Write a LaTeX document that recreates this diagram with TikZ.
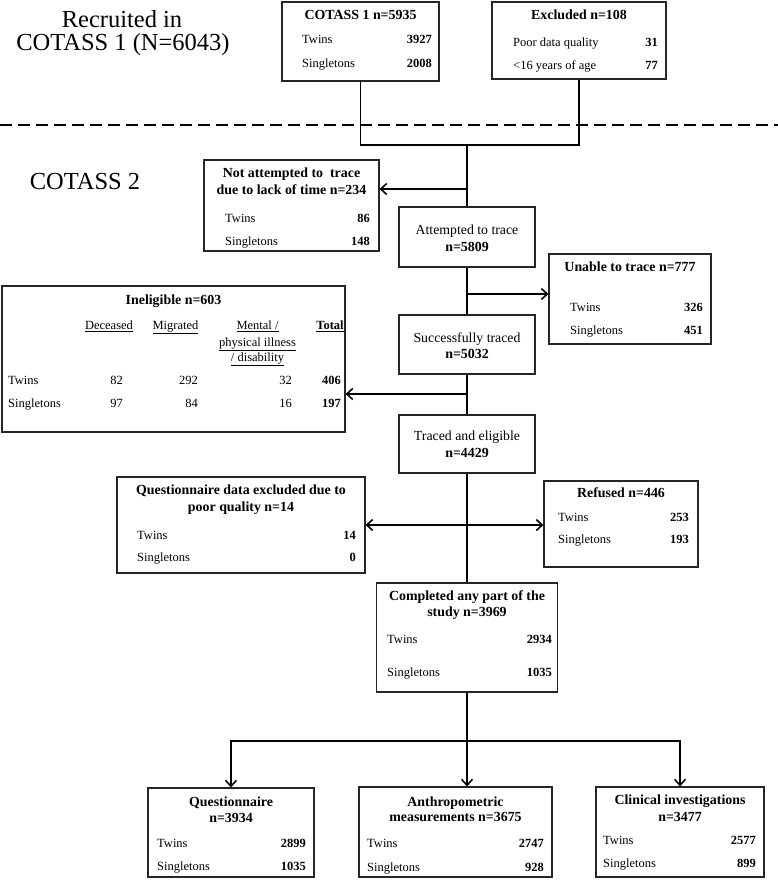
\documentclass[tikz,border=0pt]{standalone}
\usepackage{fontspec}
\setmainfont{Liberation Serif}
\usetikzlibrary{arrows.meta}
\tikzset{
  box/.style={draw=black!85,line width=1.1pt,inner sep=0pt},
  conn/.style={line width=1.8pt},
  arr/.style={conn,-{Straight Barb[length=6pt,width=11pt,line width=1.6pt]}},
  ttl/.style={font=\fontsize{24.5}{27}\selectfont,anchor=base,inner sep=0pt},
  hd/.style={font=\fontsize{13.9}{15}\selectfont\bfseries,anchor=base,inner sep=0pt},
  txt/.style={font=\fontsize{13.8}{15}\selectfont,anchor=base,inner sep=0pt},
  lbl/.style={font=\fontsize{12.5}{14}\selectfont,anchor=base west,inner sep=0pt},
  num/.style={font=\fontsize{12.5}{14}\selectfont\bfseries,anchor=base east,inner sep=0pt},
  col/.style={font=\fontsize{12.5}{14}\selectfont,anchor=base,inner sep=0pt},
}
\begin{document}
\begin{tikzpicture}[x=1pt,y=-1pt]
        \useasboundingbox (0,0) rectangle (778,880);
        %
        \node[ttl] (rec1) at (122,28) {Recruited in};
        \node[ttl] (rec2) at (123,50.5) {COTASS 1 (N=6043)};
        \node[ttl] (cot2) at (85,189) {COTASS 2};
        \draw[line width=2.5pt,dash pattern=on 12pt off 6pt] (0,125) -- (778,125);
        %
        % boxes
        \node[box,minimum width=157pt,minimum height=79pt] (cot1) at (360.5,41.5) {};
        \node[box,minimum width=174pt,minimum height=77pt] (excl) at (579,40.5) {};
        \node[box,minimum width=175pt,minimum height=91pt] (natt) at (291.5,205.5) {};
        \node[box,minimum width=136pt,minimum height=60pt] (att) at (467,237) {};
        \node[box,minimum width=162pt,minimum height=90pt] (unab) at (630,299) {};
        \node[box,minimum width=136pt,minimum height=59pt] (succ) at (467,344.5) {};
        \node[box,minimum width=343pt,minimum height=146pt] (inel) at (173.5,359) {};
        \node[box,minimum width=136pt,minimum height=58pt] (trel) at (467,444) {};
        \node[box,minimum width=248pt,minimum height=96pt] (qex) at (241,525) {};
        \node[box,minimum width=154pt,minimum height=86pt] (ref) at (621,524) {};
        \node[box,minimum width=181pt,minimum height=109pt] (comp) at (467,637.5) {};
        \node[box,minimum width=166pt,minimum height=89pt] (qst) at (231,832.5) {};
        \node[box,minimum width=193pt,minimum height=90pt] (anth) at (455.5,832) {};
        \node[box,minimum width=168pt,minimum height=90pt] (clin) at (680,832) {};
        %
        % COTASS 1
        \node[hd] (cot1h) at (360.5,19.5) {COTASS 1 n=5935};
        \node[lbl] (cot1tw) at (302,43.5) {Twins};
        \node[num] (cot1twn) at (432,43.5) {3927};
        \node[lbl] (cot1si) at (302,67.5) {Singletons};
        \node[num] (cot1sin) at (432,67.5) {2008};
        % Excluded
        \node[hd] (exclh) at (579,19.5) {Excluded n=108};
        \node[lbl] (exclpd) at (513,47) {Poor data quality};
        \node[num] (exclpdn) at (658,47) {31};
        \node[lbl] (exclag) at (513,70) {\textless16 years of age};
        \node[num] (exclagn) at (658,70) {77};
        % Not attempted
        \node[hd] (natth1) at (291.5,177.5) {Not attempted to \ trace};
        \node[hd] (natth2) at (291.5,194.5) {due to lack of time n=234};
        \node[lbl] (natttw) at (225,222.5) {Twins};
        \node[num] (natttwn) at (370,222.5) {86};
        \node[lbl] (nattsi) at (225,245) {Singletons};
        \node[num] (nattsin) at (370,245) {148};
        % Attempted
        \node[txt] (atth1) at (467,234.5) {Attempted to trace};
        \node[hd] (atth2) at (467,251.5) {n=5809};
        % Unable
        \node[hd] (unabh) at (630,271.5) {Unable to trace n=777};
        \node[lbl] (unabtw) at (570,311.5) {Twins};
        \node[num] (unabtwn) at (703,311.5) {326};
        \node[lbl] (unabsi) at (570,334.5) {Singletons};
        \node[num] (unabsin) at (703,334.5) {451};
        % Successfully traced
        \node[txt] (succh1) at (467,342.5) {Successfully traced};
        \node[hd] (succh2) at (467,358.5) {n=5032};
        % Ineligible
        \node[hd] (inelh) at (173.5,304.5) {Ineligible n=603};
        \node[col] (inelc1) at (109,329.5) {\underline{Deceased}};
        \node[col] (inelc2) at (175.5,329.5) {\underline{Migrated}};
        \node[col] (inelc3a) at (257.5,329.5) {\underline{Mental /}};
        \node[col] (inelc3b) at (257.5,346) {\underline{physical illness}};
        \node[col] (inelc3c) at (257.5,361.5) {\underline{/ disability}};
        \node[col,font=\fontsize{12.5}{14}\selectfont\bfseries] (inelc4) at (330,329.5) {\underline{Total}};
        \node[lbl] (ineltw) at (8,384.5) {Twins};
        \node[col,anchor=base east] (ineltw1) at (123,384.5) {82};
        \node[col,anchor=base east] (ineltw2) at (198,384.5) {292};
        \node[col,anchor=base east] (ineltw3) at (292,384.5) {32};
        \node[num] (ineltw4) at (341,384.5) {406};
        \node[lbl] (inelsi) at (8,407.5) {Singletons};
        \node[col,anchor=base east] (inelsi1) at (123,407.5) {97};
        \node[col,anchor=base east] (inelsi2) at (198,407.5) {84};
        \node[col,anchor=base east] (inelsi3) at (292,407.5) {16};
        \node[num] (inelsi4) at (341,407.5) {197};
        % Traced and eligible
        \node[txt] (trelh1) at (467,440.5) {Traced and eligible};
        \node[hd] (trelh2) at (467,457.5) {n=4429};
        % Questionnaire data excluded
        \node[hd] (qexh1) at (241,494.5) {Questionnaire data excluded due to};
        \node[hd] (qexh2) at (241,511.5) {poor quality n=14};
        \node[lbl] (qextw) at (137,539.5) {Twins};
        \node[num] (qextwn) at (356,539.5) {14};
        \node[lbl] (qexsi) at (137,561.5) {Singletons};
        \node[num] (qexsin) at (356,561.5) {0};
        % Refused
        \node[hd] (refh) at (621,497.5) {Refused n=446};
        \node[lbl] (reftw) at (558,521.5) {Twins};
        \node[num] (reftwn) at (689,521.5) {253};
        \node[lbl] (refsi) at (558,543.5) {Singletons};
        \node[num] (refsin) at (689,543.5) {193};
        % Completed
        \node[hd] (comph1) at (467,600.5) {Completed any part of the};
        \node[hd] (comph2) at (467,616.5) {study n=3969};
        \node[lbl] (comptw) at (387,643.5) {Twins};
        \node[num] (comptwn) at (552,643.5) {2934};
        \node[lbl] (compsi) at (387,676.5) {Singletons};
        \node[num] (compsin) at (552,676.5) {1035};
        % Questionnaire
        \node[hd] (qsth1) at (231,806.5) {Questionnaire};
        \node[hd] (qsth2) at (231,822.5) {n=3934};
        \node[lbl] (qsttw) at (157,847.5) {Twins};
        \node[num] (qsttwn) at (306,847.5) {2899};
        \node[lbl] (qstsi) at (157,870.5) {Singletons};
        \node[num] (qstsin) at (306,870.5) {1035};
        % Anthropometric
        \node[hd] (anthh1) at (455.5,806) {Anthropometric};
        \node[hd] (anthh2) at (455.5,821.5) {measurements n=3675};
        \node[lbl] (anthtw) at (367,847.5) {Twins};
        \node[num] (anthtwn) at (544,847.5) {2747};
        \node[lbl] (anthsi) at (367,871.5) {Singletons};
        \node[num] (anthsin) at (544,871.5) {928};
        % Clinical
        \node[hd] (clinh1) at (680,804.5) {Clinical investigations};
        \node[hd] (clinh2) at (680,821.5) {n=3477};
        \node[lbl] (clintw) at (603,844.5) {Twins};
        \node[num] (clintwn) at (756,844.5) {2577};
        \node[lbl] (clinsi) at (603,867.5) {Singletons};
        \node[num] (clinsin) at (756,867.5) {899};
        %
        % connectors
        \coordinate (j1) at (467,145);
        \coordinate (a1) at (467,189);
        \coordinate (a2) at (467,294);
        \coordinate (a3) at (467,394);
        \coordinate (a4) at (467,525);
        \coordinate (j2) at (467,741);
        \draw[conn] (cot1.south) |- (j1);
        \draw[conn] (excl.south) |- (j1);
        \draw[conn] (j1) -- (att.north);
        \draw[arr] (a1) -- (a1 -| natt.east);
        \draw[conn] (att.south) -- (succ.north);
        \draw[arr] (a2) -- (a2 -| unab.west);
        \draw[conn] (succ.south) -- (trel.north);
        \draw[arr] (a3) -- (a3 -| inel.east);
        \draw[conn] (trel.south) -- (comp.north);
        \draw[arr] (a4) -- (a4 -| qex.east);
        \draw[arr] (a4) -- (a4 -| ref.west);
        \draw[conn] (comp.south) -- (j2);
        \draw[arr] (j2) -| (qst.north);
        \draw[arr] (j2) -| (clin.north);
        \draw[arr] (j2) -- (j2 |- anth.north);
      \end{tikzpicture}
\end{document}
